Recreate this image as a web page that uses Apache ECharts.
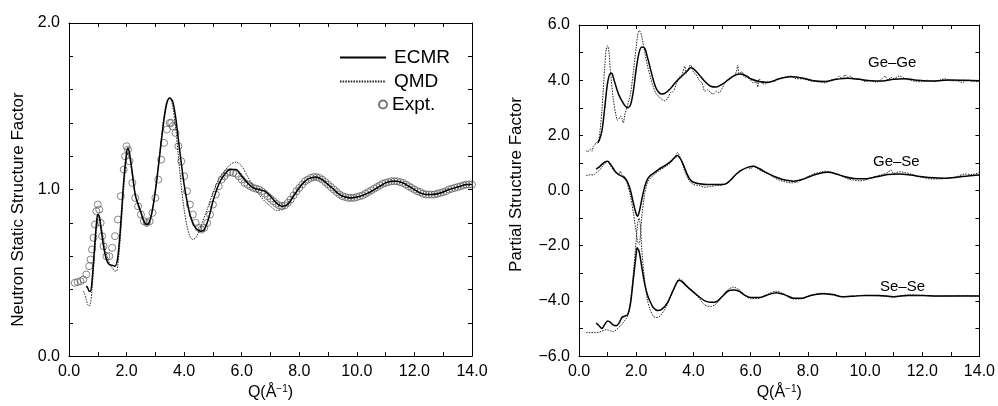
<!DOCTYPE html>
<html>
<head>
<meta charset="utf-8">
<script src="https://cdn.jsdelivr.net/npm/echarts@6/dist/echarts.min.js"></script>
<style>html,body{margin:0;padding:0;background:#fff}#c{width:998px;height:406px}</style>
</head>
<body>
<div id="c"></div>
<script>
// ---- Left panel: neutron static structure factor S(Q) ----
const ecmrTotal = [[0.6,0.42],[0.65,0.41],[0.7,0.39],[0.75,0.39],[0.8,0.45],[0.85,0.56],[0.9,0.68],[0.95,0.79],[1.0,0.85],[1.05,0.84],[1.1,0.78],[1.2,0.66],[1.3,0.58],[1.4,0.55],[1.5,0.545],[1.6,0.54],[1.7,0.60],[1.8,0.80],[1.9,1.05],[2.0,1.22],[2.05,1.25],[2.1,1.22],[2.2,1.10],[2.3,0.97],[2.4,0.91],[2.5,0.86],[2.6,0.81],[2.7,0.79],[2.8,0.81],[2.9,0.88],[3.0,0.99],[3.1,1.13],[3.2,1.28],[3.3,1.42],[3.4,1.52],[3.5,1.55],[3.6,1.53],[3.7,1.44],[3.8,1.30],[3.9,1.16],[4.0,1.03],[4.1,0.93],[4.2,0.85],[4.3,0.80],[4.4,0.77],[4.5,0.755],[4.6,0.75],[4.7,0.76],[4.8,0.80],[4.9,0.86],[5.0,0.93],[5.2,1.03],[5.4,1.09],[5.6,1.12],[5.8,1.12],[6.0,1.08],[6.2,1.04],[6.4,1.01],[6.6,1.00],[6.8,0.99],[7.0,0.96],[7.2,0.92],[7.4,0.90],[7.6,0.91],[7.8,0.96],[8.0,1.01],[8.2,1.05],[8.4,1.07],[8.6,1.075],[8.8,1.06],[9.0,1.03],[9.2,1.00],[9.4,0.97],[9.6,0.955],[9.8,0.95],[10.0,0.955],[10.2,0.965],[10.4,0.98],[10.6,1.00],[10.8,1.02],[11.0,1.04],[11.2,1.05],[11.4,1.05],[11.6,1.04],[11.8,1.02],[12.0,1.00],[12.2,0.98],[12.4,0.97],[12.6,0.97],[12.8,0.975],[13.0,0.985],[13.2,1.00],[13.4,1.01],[13.6,1.02],[13.8,1.03],[14.0,1.03]];
const qmdTotal = [[0.5,0.39],[0.55,0.37],[0.6,0.34],[0.65,0.31],[0.7,0.30],[0.75,0.32],[0.8,0.40],[0.85,0.52],[0.9,0.64],[0.95,0.76],[1.0,0.83],[1.05,0.84],[1.1,0.80],[1.2,0.70],[1.3,0.61],[1.4,0.56],[1.5,0.53],[1.6,0.51],[1.65,0.51],[1.7,0.55],[1.8,0.75],[1.9,1.00],[2.0,1.19],[2.05,1.22],[2.1,1.20],[2.2,1.08],[2.3,0.97],[2.4,0.92],[2.5,0.87],[2.6,0.81],[2.7,0.78],[2.8,0.80],[2.9,0.88],[3.0,1.00],[3.1,1.14],[3.2,1.30],[3.3,1.44],[3.4,1.53],[3.5,1.55],[3.6,1.50],[3.7,1.38],[3.8,1.20],[3.9,1.02],[4.0,0.88],[4.1,0.78],[4.2,0.72],[4.3,0.70],[4.4,0.71],[4.5,0.74],[4.6,0.79],[4.8,0.88],[5.0,0.98],[5.2,1.06],[5.4,1.11],[5.6,1.15],[5.8,1.165],[6.0,1.14],[6.2,1.08],[6.4,1.02],[6.6,0.97],[6.8,0.93],[7.0,0.90],[7.2,0.875],[7.4,0.88],[7.6,0.92],[7.8,0.97],[8.0,1.02],[8.2,1.05],[8.4,1.07],[8.6,1.07],[8.8,1.055],[9.0,1.03],[9.2,1.00],[9.4,0.97],[9.6,0.955],[9.8,0.95],[10.0,0.955],[10.2,0.965],[10.4,0.98],[10.6,1.00],[10.8,1.02],[11.0,1.04],[11.2,1.05],[11.4,1.05],[11.6,1.04],[11.8,1.02],[12.0,1.00],[12.2,0.98],[12.4,0.97],[12.6,0.97],[12.8,0.975],[13.0,0.985],[13.2,1.00],[13.4,1.01],[13.6,1.02],[13.8,1.03],[14.0,1.03]];
const exptTotal = [[0.2,0.44],[0.3,0.445],[0.4,0.45],[0.5,0.46],[0.6,0.49],[0.7,0.54],[0.75,0.58],[0.8,0.64],[0.85,0.71],[0.9,0.79],[0.95,0.87],[1.0,0.91],[1.05,0.88],[1.1,0.80],[1.15,0.72],[1.2,0.66],[1.3,0.60],[1.4,0.60],[1.5,0.65],[1.6,0.72],[1.7,0.82],[1.8,0.96],[1.9,1.12],[1.95,1.20],[2.0,1.26],[2.05,1.24],[2.1,1.17],[2.2,1.04],[2.3,0.95],[2.4,0.90],[2.5,0.85],[2.6,0.81],[2.7,0.80],[2.8,0.81],[2.9,0.86],[3.0,0.95],[3.1,1.06],[3.2,1.18],[3.3,1.28],[3.4,1.36],[3.5,1.40],[3.55,1.40],[3.6,1.38],[3.7,1.34],[3.8,1.26],[3.9,1.17],[4.0,1.08],[4.1,0.99],[4.2,0.91],[4.3,0.85],[4.4,0.80],[4.5,0.77],[4.6,0.76],[4.7,0.77],[4.8,0.80],[4.9,0.85],[5.0,0.91],[5.1,0.97],[5.2,1.02],[5.3,1.06],[5.4,1.08],[5.5,1.10],[5.6,1.105],[5.7,1.10],[5.8,1.095],[5.9,1.08],[6.0,1.06],[6.1,1.04],[6.2,1.03],[6.3,1.02],[6.4,1.01],[6.5,1.005],[6.6,1.0],[6.7,0.99],[6.8,0.975],[6.9,0.96],[7.0,0.945],[7.1,0.93],[7.2,0.915],[7.3,0.905],[7.4,0.90],[7.5,0.905],[7.6,0.92],[7.7,0.94],[7.8,0.965],[7.9,0.99],[8.0,1.01],[8.1,1.03],[8.2,1.05],[8.3,1.06],[8.4,1.07],[8.5,1.075],[8.6,1.075],[8.7,1.07],[8.8,1.06],[8.9,1.045],[9.0,1.03],[9.1,1.015],[9.2,1.0],[9.3,0.985],[9.4,0.97],[9.5,0.96],[9.6,0.955],[9.7,0.95],[9.8,0.95],[9.9,0.95],[10.0,0.955],[10.1,0.96],[10.2,0.965],[10.3,0.975],[10.4,0.985],[10.5,0.995],[10.6,1.005],[10.7,1.015],[10.8,1.025],[10.9,1.035],[11.0,1.04],[11.1,1.045],[11.2,1.05],[11.3,1.05],[11.4,1.05],[11.5,1.045],[11.6,1.04],[11.7,1.03],[11.8,1.02],[11.9,1.01],[12.0,1.0],[12.1,0.99],[12.2,0.985],[12.3,0.975],[12.4,0.97],[12.5,0.97],[12.6,0.97],[12.7,0.97],[12.8,0.975],[12.9,0.98],[13.0,0.985],[13.1,0.99],[13.2,1.0],[13.3,1.005],[13.4,1.01],[13.5,1.015],[13.6,1.02],[13.7,1.025],[13.8,1.03],[13.9,1.03],[14.0,1.03]];

// ---- Right panel: partial structure factors (offset as plotted) ----
const ecmrGeGe = [[0.65,1.75],[0.7,1.8],[0.8,2.15],[0.9,3.0],[1.0,3.9],[1.1,4.25],[1.15,4.25],[1.2,4.1],[1.3,3.75],[1.4,3.45],[1.5,3.25],[1.6,3.08],[1.7,3.0],[1.8,3.1],[1.9,3.6],[2.0,4.4],[2.1,5.0],[2.2,5.2],[2.3,5.15],[2.4,4.8],[2.5,4.4],[2.6,4.0],[2.7,3.7],[2.8,3.55],[2.9,3.5],[3.0,3.52],[3.2,3.7],[3.4,3.95],[3.6,4.15],[3.8,4.35],[3.9,4.45],[4.0,4.42],[4.2,4.2],[4.4,3.95],[4.6,3.78],[4.8,3.75],[5.0,3.85],[5.2,4.0],[5.4,4.15],[5.6,4.22],[5.8,4.18],[6.0,4.05],[6.3,3.95],[6.6,3.92],[7.0,4.05],[7.4,4.12],[7.8,4.08],[8.2,3.98],[8.6,3.95],[9.0,4.03],[9.4,4.07],[9.8,4.03],[10.2,3.98],[10.6,3.97],[11.0,4.03],[11.4,4.05],[11.8,4.0],[12.2,3.97],[12.6,3.98],[13.0,4.01],[13.5,4.0],[14.0,3.98]];
const qmdGeGe = [[0.25,1.45],[0.3,1.4],[0.4,1.5],[0.45,1.42],[0.5,1.6],[0.55,1.65],[0.6,1.75],[0.65,1.7],[0.7,1.85],[0.8,2.9],[0.9,4.5],[0.95,5.1],[1.0,5.25],[1.05,5.0],[1.1,4.3],[1.2,3.3],[1.3,2.7],[1.35,2.55],[1.4,2.6],[1.45,2.7],[1.5,2.6],[1.55,2.45],[1.6,2.75],[1.7,3.1],[1.8,3.5],[1.9,4.3],[2.0,5.2],[2.05,5.6],[2.1,5.8],[2.15,5.75],[2.2,5.55],[2.3,5.0],[2.4,4.5],[2.5,4.1],[2.6,3.75],[2.7,3.5],[2.8,3.4],[2.9,3.3],[3.0,3.25],[3.1,3.35],[3.2,3.55],[3.3,3.6],[3.4,3.85],[3.5,4.1],[3.6,4.2],[3.7,4.5],[3.75,4.25],[3.8,4.35],[3.9,4.55],[4.0,4.3],[4.1,4.2],[4.2,4.0],[4.3,3.9],[4.4,3.6],[4.5,3.65],[4.6,3.55],[4.7,3.5],[4.8,3.6],[4.9,3.55],[5.0,3.7],[5.1,3.9],[5.2,4.0],[5.3,4.1],[5.4,4.15],[5.5,4.3],[5.55,4.55],[5.6,4.25],[5.7,4.3],[5.8,4.1],[5.9,4.15],[6.0,4.0],[6.1,3.9],[6.2,3.95],[6.25,3.75],[6.3,4.05],[6.4,3.9],[6.5,3.85],[6.6,3.95],[6.8,3.95],[7.0,4.05],[7.2,4.1],[7.4,4.15],[7.6,4.05],[7.8,4.05],[8.0,4.0],[8.2,3.95],[8.4,3.95],[8.6,3.9],[8.8,4.0],[9.0,4.05],[9.1,4.15],[9.2,4.05],[9.3,4.2],[9.4,4.1],[9.5,4.15],[9.6,4.05],[9.8,4.05],[10.0,3.95],[10.2,3.98],[10.4,3.93],[10.6,4.05],[10.7,4.15],[10.8,4.0],[10.9,4.1],[11.0,4.05],[11.2,4.15],[11.4,4.05],[11.6,4.0],[11.8,3.95],[12.0,3.95],[12.2,4.0],[12.4,3.95],[12.6,4.0],[12.8,4.05],[13.0,3.98],[13.2,3.98],[13.4,3.92],[13.6,4.0],[13.8,3.95],[14.0,3.95]];
const ecmrGeSe = [[0.6,0.78],[0.7,0.85],[0.8,0.95],[0.9,1.03],[1.0,1.06],[1.1,0.95],[1.2,0.8],[1.3,0.65],[1.4,0.57],[1.5,0.52],[1.6,0.45],[1.7,0.3],[1.8,0.0],[1.9,-0.45],[2.0,-0.85],[2.05,-0.93],[2.1,-0.8],[2.2,-0.3],[2.3,0.15],[2.4,0.42],[2.5,0.55],[2.6,0.62],[2.8,0.78],[3.0,0.9],[3.2,1.05],[3.3,1.15],[3.4,1.25],[3.45,1.27],[3.5,1.22],[3.6,1.05],[3.7,0.8],[3.8,0.55],[3.9,0.38],[4.0,0.3],[4.2,0.25],[4.5,0.22],[4.8,0.22],[5.1,0.23],[5.3,0.38],[5.5,0.6],[5.7,0.75],[5.9,0.84],[6.1,0.88],[6.3,0.8],[6.6,0.62],[6.9,0.48],[7.2,0.38],[7.5,0.34],[7.8,0.4],[8.1,0.52],[8.4,0.62],[8.7,0.66],[9.0,0.6],[9.3,0.5],[9.6,0.44],[10.0,0.43],[10.4,0.5],[10.8,0.58],[11.2,0.6],[11.6,0.56],[12.0,0.5],[12.4,0.46],[12.8,0.45],[13.2,0.48],[13.6,0.53],[14.0,0.56]];
const qmdGeSe = [[0.25,0.55],[0.3,0.55],[0.4,0.58],[0.5,0.56],[0.6,0.65],[0.7,0.72],[0.8,0.85],[0.9,0.98],[1.0,1.05],[1.1,0.9],[1.2,0.75],[1.3,0.62],[1.4,0.6],[1.45,0.7],[1.5,0.55],[1.6,0.5],[1.7,0.2],[1.8,-0.2],[1.9,-0.8],[2.0,-1.5],[2.05,-1.85],[2.1,-1.95],[2.15,-1.6],[2.2,-0.9],[2.3,-0.1],[2.4,0.3],[2.5,0.45],[2.6,0.55],[2.8,0.72],[3.0,0.85],[3.2,1.0],[3.3,1.15],[3.4,1.3],[3.45,1.38],[3.5,1.3],[3.6,1.0],[3.7,0.7],[3.8,0.45],[3.9,0.3],[4.0,0.22],[4.2,0.18],[4.4,0.12],[4.6,0.15],[4.8,0.18],[5.0,0.2],[5.2,0.3],[5.4,0.5],[5.6,0.7],[5.8,0.8],[5.9,0.85],[6.0,0.78],[6.1,0.9],[6.2,0.82],[6.4,0.7],[6.6,0.62],[6.8,0.48],[7.0,0.38],[7.2,0.32],[7.4,0.28],[7.6,0.3],[7.8,0.4],[8.0,0.5],[8.2,0.6],[8.4,0.65],[8.6,0.7],[8.8,0.68],[9.0,0.6],[9.2,0.52],[9.4,0.42],[9.6,0.38],[9.8,0.35],[10.0,0.38],[10.2,0.45],[10.4,0.52],[10.6,0.58],[10.8,0.65],[10.9,0.75],[11.0,0.62],[11.2,0.68],[11.4,0.65],[11.6,0.6],[11.8,0.52],[12.0,0.48],[12.3,0.42],[12.6,0.42],[12.9,0.45],[13.2,0.5],[13.5,0.6],[13.7,0.58],[14.0,0.65]];
const ecmrSeSe = [[0.6,-4.8],[0.7,-4.9],[0.8,-5.0],[0.9,-4.85],[1.0,-4.73],[1.1,-4.78],[1.2,-4.88],[1.3,-4.9],[1.4,-4.8],[1.5,-4.6],[1.6,-4.55],[1.7,-4.5],[1.8,-4.1],[1.9,-3.2],[2.0,-2.3],[2.03,-2.07],[2.1,-2.2],[2.2,-2.8],[2.3,-3.4],[2.4,-3.8],[2.5,-4.05],[2.6,-4.25],[2.75,-4.35],[2.9,-4.3],[3.1,-4.05],[3.3,-3.6],[3.5,-3.25],[3.6,-3.3],[3.8,-3.5],[4.0,-3.68],[4.2,-3.85],[4.4,-4.0],[4.6,-4.05],[4.8,-4.03],[5.0,-3.85],[5.2,-3.65],[5.4,-3.6],[5.6,-3.65],[5.8,-3.8],[6.0,-3.88],[6.3,-3.88],[6.6,-3.78],[6.9,-3.7],[7.2,-3.78],[7.5,-3.9],[7.8,-3.9],[8.1,-3.8],[8.5,-3.74],[8.9,-3.78],[9.2,-3.85],[9.6,-3.83],[10.0,-3.8],[10.5,-3.8],[11.0,-3.85],[11.5,-3.8],[12.0,-3.8],[12.5,-3.82],[13.0,-3.82],[13.5,-3.82],[14.0,-3.82]];
const qmdSeSe = [[0.25,-5.15],[0.4,-5.15],[0.6,-5.15],[0.8,-5.1],[0.9,-5.05],[1.0,-5.05],[1.1,-5.08],[1.2,-5.12],[1.3,-5.05],[1.4,-4.95],[1.5,-4.85],[1.6,-4.7],[1.7,-4.55],[1.8,-4.0],[1.9,-3.0],[2.0,-1.8],[2.05,-1.2],[2.1,-1.0],[2.15,-1.3],[2.2,-2.2],[2.3,-3.3],[2.4,-4.0],[2.5,-4.35],[2.6,-4.55],[2.7,-4.6],[2.8,-4.58],[3.0,-4.3],[3.2,-3.85],[3.4,-3.35],[3.5,-3.2],[3.6,-3.25],[3.8,-3.5],[4.0,-3.65],[4.2,-3.9],[4.4,-4.15],[4.6,-4.2],[4.8,-4.1],[5.0,-3.85],[5.2,-3.6],[5.4,-3.5],[5.6,-3.6],[5.8,-3.8],[6.0,-3.92],[6.3,-3.9],[6.6,-3.75],[6.9,-3.65],[7.2,-3.78],[7.5,-3.93],[7.8,-3.92],[8.1,-3.8],[8.5,-3.72],[8.9,-3.76],[9.2,-3.85],[9.6,-3.82],[10.0,-3.8],[10.5,-3.82],[11.0,-3.86],[11.5,-3.78],[12.0,-3.8],[12.5,-3.83],[13.0,-3.82],[13.5,-3.81],[14.0,-3.82]];

const pairLabels = ['Ge\u2013Ge', 'Ge\u2013Se', 'Se\u2013Se'];
const legendNames = ['ECMR', 'QMD', 'Expt.'];
const xTitle = 'Q(\u00c5{sup|\u22121})';
const leftTitle = 'Neutron Static Structure Factor';
const rightTitle = 'Partial Structure Factor';

const FONT = '"Liberation Sans", Arial, Helvetica, sans-serif';
const fmt = v => v.toFixed(1).replace('-', '\u2212');

function xAx(gi, pos, showLabel) {
  return {
    type: 'value', gridIndex: gi, position: pos, min: 0, max: 14, interval: 2,
    axisLine: { show: true, onZero: false, lineStyle: { color: '#000', width: 1 } },
    axisTick: { show: true, inside: true, length: 4, lineStyle: { color: '#000' } },
    minorTick: { show: true, splitNumber: 2, length: 4, lineStyle: { color: '#000' } },
    splitLine: { show: false },
    axisLabel: { show: showLabel, formatter: fmt, color: '#000', fontSize: 16, fontFamily: FONT, margin: 7 },
    name: showLabel ? xTitle : '', nameLocation: 'middle', nameGap: 27,
    nameTextStyle: { color: '#000', fontSize: 16, fontFamily: FONT,
      rich: { sup: { fontSize: 10, verticalAlign: 'top', color: '#000', fontFamily: FONT, padding: [0, 0, 8, 0] } } }
  };
}
function yAx(gi, pos, min, max, interval, split, showLabel, title, gap, pad) {
  return {
    type: 'value', gridIndex: gi, position: pos, min: min, max: max, interval: interval,
    axisLine: { show: true, onZero: false, lineStyle: { color: '#000', width: 1 } },
    axisTick: { show: true, inside: true, length: 4, lineStyle: { color: '#000' } },
    minorTick: { show: true, splitNumber: split, length: 4, lineStyle: { color: '#000' } },
    splitLine: { show: false },
    axisLabel: { show: showLabel, formatter: fmt, color: '#000', fontSize: 16, fontFamily: FONT, margin: 9 },
    name: showLabel ? title : '', nameLocation: 'middle', nameGap: gap, nameRotate: 90,
    nameTextStyle: { color: '#000', fontSize: 17, fontFamily: FONT, padding: pad || 0 }
  };
}
const solid = (name, data, xi, yi) => ({ name, type: 'line', data, xAxisIndex: xi, yAxisIndex: yi,
  symbol: 'none', smooth: 0.3, lineStyle: { color: '#000', width: 1.5 }, itemStyle: { color: '#000' }, z: 4 });
const dotted = (name, data, xi, yi) => ({ name, type: 'line', data, xAxisIndex: xi, yAxisIndex: yi,
  symbol: 'none', smooth: 0.3, lineStyle: { color: '#222', width: 1, type: [1.5, 1.2] }, itemStyle: { color: '#222' }, z: 3 });

const noSymbol = { color: 'rgba(0,0,0,0)', borderWidth: 0, borderColor: 'rgba(0,0,0,0)' };
const chart = echarts.init(document.getElementById('c'), null, { renderer: 'canvas' });
chart.setOption({
  animation: false,
  backgroundColor: '#fff',
  textStyle: { fontFamily: FONT },
  grid: [
    { left: 69, top: 23, width: 403, height: 338, containLabel: false },
    { left: 579, top: 25, width: 403, height: 338, containLabel: false }
  ],
  xAxis: [xAx(0, 'bottom', true), xAx(0, 'top', false), xAx(1, 'bottom', true), xAx(1, 'top', false)],
  yAxis: [
    yAx(0, 'left', 0, 2, 1, 5, true, leftTitle, 42, [0, 40, 0, 0]),
    yAx(0, 'right', 0, 2, 1, 5, false, '', 0),
    yAx(1, 'left', -6, 6, 2, 2, true, rightTitle, 54, [0, 0, 0, 12]),
    yAx(1, 'right', -6, 6, 2, 2, false, '', 0)
  ],
  legend: [
    { data: [legendNames[0]], left: 334, top: 43, itemWidth: 46, itemHeight: 14, itemStyle: noSymbol,
      textStyle: { fontSize: 19, color: '#000', fontFamily: FONT, padding: [0, 0, 0, 3] } },
    { data: [legendNames[1]], left: 334, top: 67, itemWidth: 46, itemHeight: 14, itemStyle: noSymbol,
      textStyle: { fontSize: 19, color: '#000', fontFamily: FONT, padding: [0, 0, 0, 3] } },
    { data: [legendNames[2]], left: 373, top: 90, itemWidth: 8, itemHeight: 8,
      textStyle: { fontSize: 19, color: '#000', fontFamily: FONT, padding: [0, 0, 0, 0] } }
  ],
  graphic: [
    { type: 'text', left: 868, top: 55, style: { text: pairLabels[0], fontSize: 15, fontFamily: FONT, fill: '#000' } },
    { type: 'text', left: 873, top: 154, style: { text: pairLabels[1], fontSize: 15, fontFamily: FONT, fill: '#000' } },
    { type: 'text', left: 880, top: 279, style: { text: pairLabels[2], fontSize: 15, fontFamily: FONT, fill: '#000' } }
  ],
  series: [
    { name: legendNames[2], type: 'scatter', data: exptTotal, xAxisIndex: 0, yAxisIndex: 0,
      symbol: 'circle', symbolSize: 7,
      itemStyle: { color: 'rgba(0,0,0,0)', borderColor: '#555', borderWidth: 0.9 }, z: 2 },
    solid(legendNames[0], ecmrTotal, 0, 0),
    dotted(legendNames[1], qmdTotal, 0, 0),
    solid('ECMR Ge-Ge', ecmrGeGe, 2, 2),
    dotted('QMD Ge-Ge', qmdGeGe, 2, 2),
    solid('ECMR Ge-Se', ecmrGeSe, 2, 2),
    dotted('QMD Ge-Se', qmdGeSe, 2, 2),
    solid('ECMR Se-Se', ecmrSeSe, 2, 2),
    dotted('QMD Se-Se', qmdSeSe, 2, 2)
  ]
});
</script>
</body>
</html>
